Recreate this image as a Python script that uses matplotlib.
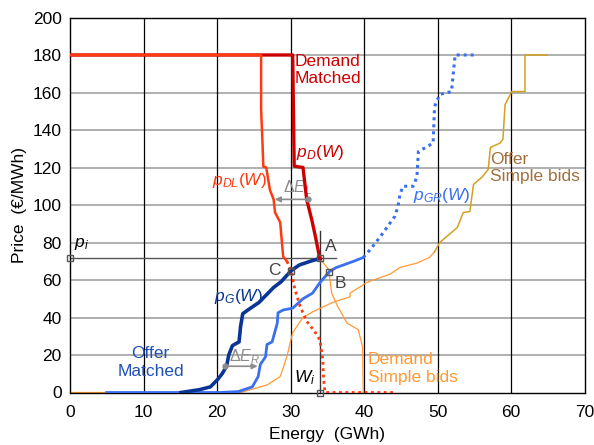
import matplotlib
matplotlib.use("Agg")
import matplotlib.pyplot as plt

plt.rcParams['font.family'] = ['Liberation Sans', 'DejaVu Sans']
plt.rcParams['mathtext.fontset'] = 'custom'
plt.rcParams['mathtext.it'] = 'Liberation Sans:italic'
plt.rcParams['mathtext.rm'] = 'Liberation Sans'

# curves: (energy GWh, price EUR/MWh)
pd_x = [0, 30.3, 30.5, 31.7, 32.2, 32.9, 33.4, 33.8, 34.0]
pd_y = [180, 180, 120.7, 120, 103, 92, 83, 75, 71.5]

pdl_x = [0, 26.0, 26.0, 26.2, 26.3, 26.7, 27.2, 27.7, 27.9, 28.6, 28.8, 29.0, 29.5]
pdl_y = [180, 180, 151, 132, 120.5, 120, 108, 103, 96, 90.7, 81.6, 72.5, 70]
pdl_dot_x = [29.5, 30.1, 30.6, 31.3, 32.2, 33.3, 34.0, 34.4, 34.5, 34.7, 44.3]
pdl_dot_y = [70, 65, 55, 46, 38, 32.5, 28, 17.6, 7, 0, 0]

pg_x = [15.1, 17.6, 19.1, 20.1, 20.7, 21.3, 21.6, 22.1, 23.0, 23.2, 23.5, 24.2, 25.7, 26.7, 27.7, 28.7, 30.1, 31.2, 32.7, 34.0]
pg_y = [0, 1.5, 3, 7, 10, 14, 20, 25, 27, 35, 42, 44, 48, 52, 56, 59, 65, 68, 70, 71.5]

pgr_x = [5, 20.4, 22.9, 24.8, 25.6, 25.9, 26.6, 26.8, 27.5, 28.2, 28.3, 29.0, 30.3, 31.7, 33.0, 34.0, 35.3, 36.2, 38.6, 39.9]
pgr_y = [0, 0, 0.5, 3, 8.5, 15, 19, 25.6, 27, 37, 42.5, 44, 45, 50, 53, 58.6, 64.5, 66.6, 70, 72]
pgr_dot_x = [39.9, 40.8, 42.2, 44.2, 44.6, 44.9, 45.3, 46.7, 47.2, 47.4, 49.4, 49.6, 50.3, 51.9, 52.4, 55.4]
pgr_dot_y = [72, 76, 83, 94, 99, 105.6, 110, 110, 115, 128.5, 133, 152.5, 159, 160.5, 180, 180]

offer_lo_x = [0, 23.2, 26.8, 28.6, 29.5, 30.3, 31.7, 33.0, 35.7, 38.1, 38.1, 40.4, 42.2, 43.5, 44.9, 47.2, 48.9, 49.6]
offer_lo_y = [0, 0, 4, 8.5, 19, 32, 40, 43, 48, 51, 53, 58.7, 61.3, 63, 66.7, 69, 72, 75]
offer_hi_x = [49.6, 50.3, 51.2, 52.7, 53.5, 54.4, 54.9, 56.1, 56.9, 57.2, 58.5, 58.9, 59.2, 60.1, 61.9, 61.9, 64.9]
offer_hi_y = [75, 80, 83, 88, 96, 96.5, 111, 115, 119, 130.7, 133, 135, 153.6, 160.5, 160.5, 180, 180]

dem_x = [34.0, 34.7, 35.2, 35.6, 36.4, 37.7, 39.2, 39.8, 39.9]
dem_y = [71.5, 68, 65.6, 53, 46, 37, 33.6, 24.5, 0]

p_i = 71.5
w_i = 34.0
pt_A = (34.0, 71.5)
pt_B = (35.3, 64.5)
pt_C = (30.1, 65)

fig = plt.figure(figsize=(5.94, 4.45), dpi=100)
ax = fig.add_axes([70 / 594, 52.5 / 445, 514.5 / 594, 375 / 445])

for y in range(20, 200, 20):
    ax.axhline(y, color='#9a9a9a', lw=1.1, zorder=0)
for x in range(10, 70, 10):
    ax.axvline(x, color='black', lw=0.9, zorder=0)

# reference lines for the equilibrium point
ax.plot([0, 36.2], [p_i, p_i], color='#555555', lw=1.0, zorder=1)
ax.plot([w_i, w_i], [0, 86], color='#333333', lw=1.0, zorder=1)

ax.plot(offer_lo_x, offer_lo_y, color='#ff9933', lw=0.9, zorder=2)
ax.plot(offer_hi_x, offer_hi_y, color='#d4a020', lw=1.1, zorder=2)
ax.plot(dem_x, dem_y, color='#ff9933', lw=0.9, zorder=2)

ax.plot(pgr_x, pgr_y, color='#3a6ff0', lw=2.0, zorder=3)
ax.plot(pgr_dot_x, pgr_dot_y, color='#3a6ff0', lw=2.2, ls=(0, (1, 1.3)), zorder=3)
ax.plot(pg_x, pg_y, color='#0a3594', lw=2.6, zorder=4)

ax.plot(pd_x, pd_y, color='#cc0000', lw=2.4, zorder=4)
ax.plot(pdl_x, pdl_y, color='#ff3a10', lw=1.8, zorder=5)
ax.plot(pdl_dot_x, pdl_dot_y, color='#ff3a10', lw=2.0, ls=(0, (1, 1.3)), zorder=5)

for px, py in [pt_A, pt_B, pt_C, (0, p_i), (w_i, 0)]:
    ax.plot(px, py, marker='s', ms=5, mfc='none', mec='#555555', mew=1.0, zorder=6, clip_on=False)

# delta E arrows
ax.annotate('', xy=(27.5, 103), xytext=(32.4, 103),
            arrowprops=dict(arrowstyle='-|>', color='#8c8c8c', lw=1.2, mutation_scale=8), zorder=6)
ax.plot(32.4, 103, 'o', color='#8c8c8c', ms=3.5, zorder=6)
ax.text(30.9, 109.5, r'$\Delta E_L$', color='#8c8c8c', fontsize=11.5, ha='center', va='center')
ax.annotate('', xy=(25.9, 14), xytext=(21.1, 14),
            arrowprops=dict(arrowstyle='-|>', color='#8c8c8c', lw=1.2, mutation_scale=8), zorder=6)
ax.plot(21.1, 14, 'o', color='#8c8c8c', ms=3.5, zorder=6)
ax.text(23.8, 19, r'$\Delta E_R$', color='#8c8c8c', fontsize=11.5, ha='center', va='center')

fs = 12.5
ax.text(30.6, 180.5, 'Demand\nMatched', color='#cc0000', fontsize=fs, ha='left', va='top', linespacing=1.2)
ax.text(30.7, 128, r'$p_D(W)$', color='#cc0000', fontsize=fs, ha='left', va='center')
ax.text(19.3, 113, r'$p_{DL}(W)$', color='#ff3a10', fontsize=fs, ha='left', va='center')
ax.text(46.6, 105, r'$p_{GR}(W)$', color='#3a6ff0', fontsize=fs, ha='left', va='center')
ax.text(19.6, 51, r'$p_G(W)$', color='#0a3594', fontsize=fs, ha='left', va='center')
ax.text(57.1, 128.5, 'Offer\nSimple bids', color='#a0703e', fontsize=fs, ha='left', va='top', linespacing=1.2)
ax.text(40.5, 21.5, 'Demand\nSimple bids', color='#ff9933', fontsize=fs, ha='left', va='top', linespacing=1.2)
ax.text(15.5, 25, 'Offer\nMatched', color='#1f4fb8', fontsize=fs, ha='right', va='top', linespacing=1.25,
        multialignment='center')
ax.text(34.7, 78, 'A', color='#444444', fontsize=fs, ha='left', va='center')
ax.text(36.0, 58, 'B', color='#444444', fontsize=fs, ha='left', va='center')
ax.text(28.6, 65, 'C', color='#444444', fontsize=fs, ha='right', va='center')
ax.text(0.6, 79, r'$p_i$', color='black', fontsize=fs, ha='left', va='center')
ax.text(33.4, 8, r'$W_i$', color='black', fontsize=fs, ha='right', va='center')

ax.set_xlim(0, 70)
ax.set_ylim(0, 200)
ax.set_xticks(range(0, 71, 10))
ax.set_yticks(range(0, 201, 20))
ax.tick_params(length=0, labelsize=12.5)
ax.tick_params(axis='x', pad=9)
ax.tick_params(axis='y', pad=6)
for s in ax.spines.values():
    s.set_color('black')
    s.set_linewidth(1.0)
ax.set_xlabel('Energy  (GWh)', fontsize=12.5, labelpad=5)
ax.set_ylabel('Price  (€/MWh)', fontsize=12.5, labelpad=4)

fig.savefig('out.png', dpi=100)
